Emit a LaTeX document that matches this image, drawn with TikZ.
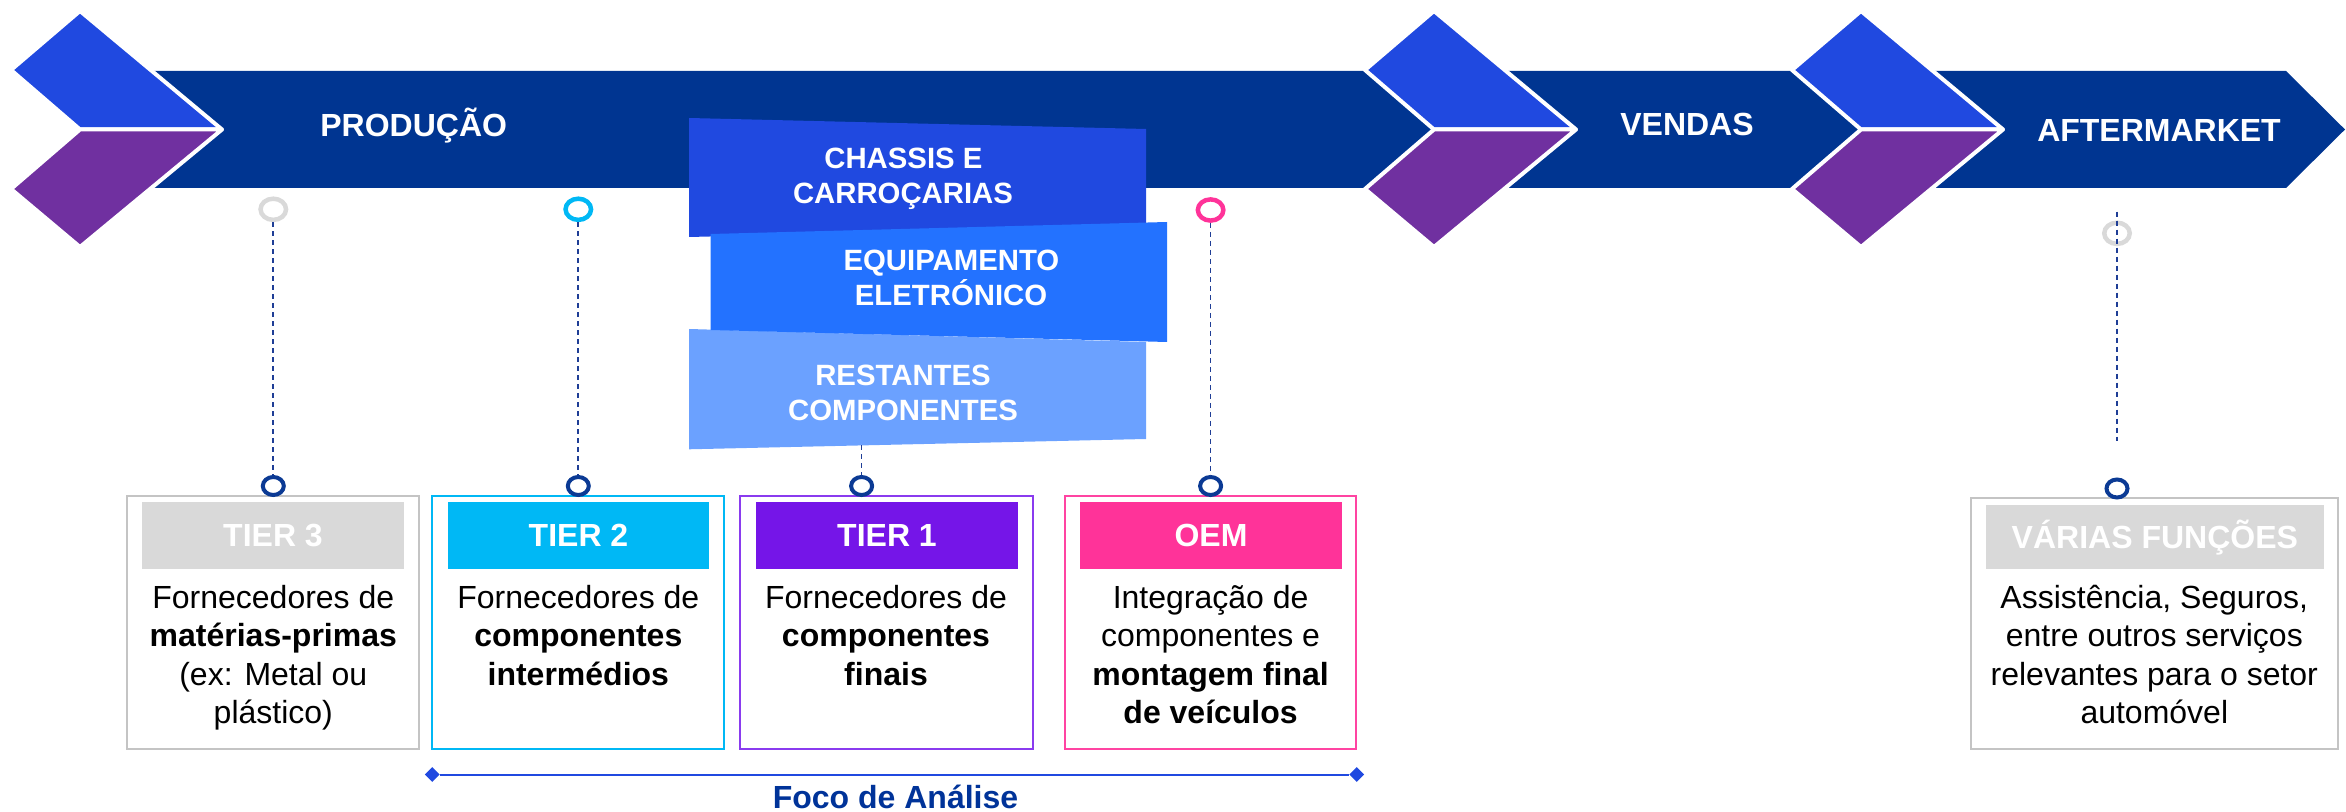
\documentclass[tikz,border=0pt]{standalone}
\usepackage{fontspec}
\setmainfont{Liberation Sans}
\usetikzlibrary{shapes.geometric}
\definecolor{bandblue}{HTML}{003591}
\definecolor{chevblue}{HTML}{2049E0}
\definecolor{chevpurple}{HTML}{7030A0}
\definecolor{equipblue}{HTML}{2372FF}
\definecolor{restblue}{HTML}{6BA1FF}
\definecolor{ringgray}{HTML}{D9D9D9}
\definecolor{tcyan}{HTML}{00B8F5}
\definecolor{tpurple}{HTML}{7515E8}
\definecolor{tpurpleline}{HTML}{8A3BEF}
\definecolor{tpink}{HTML}{FF3399}
\definecolor{tpinkline}{HTML}{FF44A2}
\definecolor{boxgray}{HTML}{C4C4C4}
\definecolor{dashnavy}{HTML}{1F3E96}
\definecolor{ringnavy}{HTML}{0B3A94}
\definecolor{foconavy}{HTML}{003399}
\begin{document}
\begin{tikzpicture}[x=0.75pt,y=-0.75pt,
  stagetext/.style={text=white, font=\fontsize{24}{28}\selectfont\bfseries, anchor=base, inner sep=0},
  stacktext/.style={text=white, font=\fontsize{22}{26}\selectfont\bfseries, anchor=base, inner sep=0},
  bodytext/.style={font=\fontsize{24}{28}\selectfont, anchor=base, inner sep=0},
  bodybold/.style={font=\fontsize{24}{28}\selectfont\bfseries, anchor=base, inner sep=0},
  chevpiece/.style={draw=white, line width=3pt, line join=round},
  topring/.style={ellipse, draw, line width=4.5*0.75pt, minimum width=25.5*0.75pt, minimum height=21.2*0.75pt, inner sep=0},
  navyring/.style={ellipse, draw=ringnavy, line width=4*0.75pt, minimum width=21*0.75pt, minimum height=18*0.75pt, inner sep=0},
  dashline/.style={draw=dashnavy, line width=1.3pt, dash pattern=on 3.75pt off 3pt},
  tierbox/.style={draw, line width=1.5pt, minimum width=291.7*0.75pt, minimum height=253*0.75pt, anchor=north west, inner sep=0, outer sep=0},
  labelbar/.style={minimum width=262*0.75pt, minimum height=66.7*0.75pt, anchor=north west, inner sep=0, outer sep=0, text=white, font=\fontsize{24}{28}\selectfont\bfseries, text height=17.2pt, text depth=0pt},
  focotip/.style={diamond, fill=chevblue, minimum width=15*0.75pt, minimum height=15*0.75pt, inner sep=0}
]
\useasboundingbox (0,0) rectangle (2346,812);

% main band
\fill[bandblue] (140,71) -- (2286,71) -- (2345,129.5) -- (2286,188) -- (140,188) -- cycle;

% chevrons
\foreach \o in {0,1354,1781}{
  \fill[chevblue, chevpiece] (11+\o,70) -- (80+\o,11) -- (222+\o,129.5) -- (80+\o,129.5) -- cycle;
  \fill[chevpurple, chevpiece] (80+\o,129.5) -- (222+\o,129.5) -- (80+\o,247) -- (11+\o,189) -- cycle;
}

% stage labels
\node[stagetext] (prod) at (413.7,136.7) {PRODUÇÃO};
\node[stagetext] (vend) at (1687,136) {VENDAS};
\node[stagetext] (aftm) at (2159,141.7) {AFTERMARKET};

% stacked shapes
\fill[chevblue] (689,118) -- (1146,129) -- (1146,226) -- (689,237) -- cycle;
\fill[restblue] (689,329) -- (1146,342) -- (1146,439) -- (689,449.3) -- cycle;
\fill[equipblue] (710.5,234) -- (1167,222) -- (1167,342) -- (710.5,330) -- cycle;
\node[stacktext] (ch1) at (903.4,169) {CHASSIS E};
\node[stacktext] (ch2) at (903,204) {CARROÇARIAS};
\node[stacktext] (eq1) at (951.4,270.7) {EQUIPAMENTO};
\node[stacktext] (eq2) at (951,305.3) {ELETRÓNICO};
\node[stacktext] (re1) at (903,386) {RESTANTES};
\node[stacktext] (re2) at (903,420.7) {COMPONENTES};
\coordinate (restbot) at (861.6,445.5);

% boxes
\node[tierbox, draw=boxgray] (b3) at (127.3,496) {};
\node[tierbox, draw=tcyan] (b2) at (432.3,496) {};
\node[tierbox, draw=tpurpleline, minimum width=293*0.75pt] (b1) at (740.3,496) {};
\node[tierbox, draw=tpinkline, minimum width=291*0.75pt] (boem) at (1065,496) {};
\node[tierbox, draw=boxgray, minimum width=366.7*0.75pt, minimum height=251*0.75pt] (baft) at (1971,498) {};

\node[labelbar, fill=ringgray] (l3) at (142,502) {TIER 3};
\node[labelbar, fill=tcyan, minimum width=261*0.75pt] (l2) at (448,502) {TIER 2};
\node[labelbar, fill=tpurple] (l1) at (756,502) {TIER 1};
\node[labelbar, fill=tpink] (loem) at (1080,502) {OEM};
\node[labelbar, fill=ringgray, minimum width=337.7*0.75pt, minimum height=63.7*0.75pt] (laft) at (1986,505) {VÁRIAS FUNÇÕES};

% rings
\node[topring, draw=ringgray] (r3) at (273.3,209.3) {};
\node[topring, draw=tcyan] (r2) at (578.3,209.3) {};
\node[topring, draw=tpink] (roem) at (1210.6,210) {};
\node[topring, draw=ringgray] (raft) at (2117,233.3) {};

\node[navyring] (n3) at (273.3,486) {};
\node[navyring] (n2) at (578.3,486) {};
\node[navyring] (n1) at (861.6,486) {};
\node[navyring] (noem) at (1210.6,486) {};
\node[navyring] (naft) at (2117,488.5) {};

% dashed connectors
\draw[dashline] (r3.south) -- (n3.north);
\draw[dashline] (r2.south) -- (n2.north);
\draw[dashline] (restbot) -- (n1.north);
\draw[dashline] (roem.south) -- (noem.north);
\coordinate (afttop) at (2117,211.7);
\coordinate (aftbot) at (2117,440.7);
\draw[dashline] (afttop) -- (aftbot);

% body texts
\node[bodytext] (t3a) at (273.3,608.3) {Fornecedores de};
\node[bodybold] (t3b) at (273.3,646.7) {matérias-primas};
\node[bodytext] (t3c) at (273.3,685) {(ex: Metal ou};
\node[bodytext] (t3d) at (273.3,723.3) {plástico)};

\node[bodytext] (t2a) at (578.3,608.3) {Fornecedores de};
\node[bodybold] (t2b) at (578.3,646.7) {componentes};
\node[bodybold] (t2c) at (578.3,685) {intermédios};

\node[bodytext] (t1a) at (886,608.3) {Fornecedores de};
\node[bodybold] (t1b) at (886,646.7) {componentes};
\node[bodybold] (t1c) at (886,685) {finais};

\node[bodytext] (toa) at (1210.6,608.3) {Integração de};
\node[bodytext] (tob) at (1210.6,646.7) {componentes e};
\node[bodybold] (toc) at (1210.6,685) {montagem final};
\node[bodybold] (tod) at (1210.6,723.3) {de veículos};

\node[bodytext] (taa) at (2154.3,608.3) {Assistência, Seguros,};
\node[bodytext] (tab) at (2154.3,646.7) {entre outros serviços};
\node[bodytext] (tac) at (2154.3,685) {relevantes para o setor};
\node[bodytext] (tad) at (2154.3,723.3) {automóvel};

% foco de analise
\node[focotip] (fl) at (432.3,774.5) {};
\node[focotip] (fr) at (1356.7,774.5) {};
\draw[chevblue, line width=1.5pt] (fl) -- (fr);
\node[font=\fontsize{24}{28}\selectfont\bfseries, text=foconavy, anchor=base, inner sep=0] (foco) at (895.5,808) {Foco de Análise};
\end{tikzpicture}
\end{document}
